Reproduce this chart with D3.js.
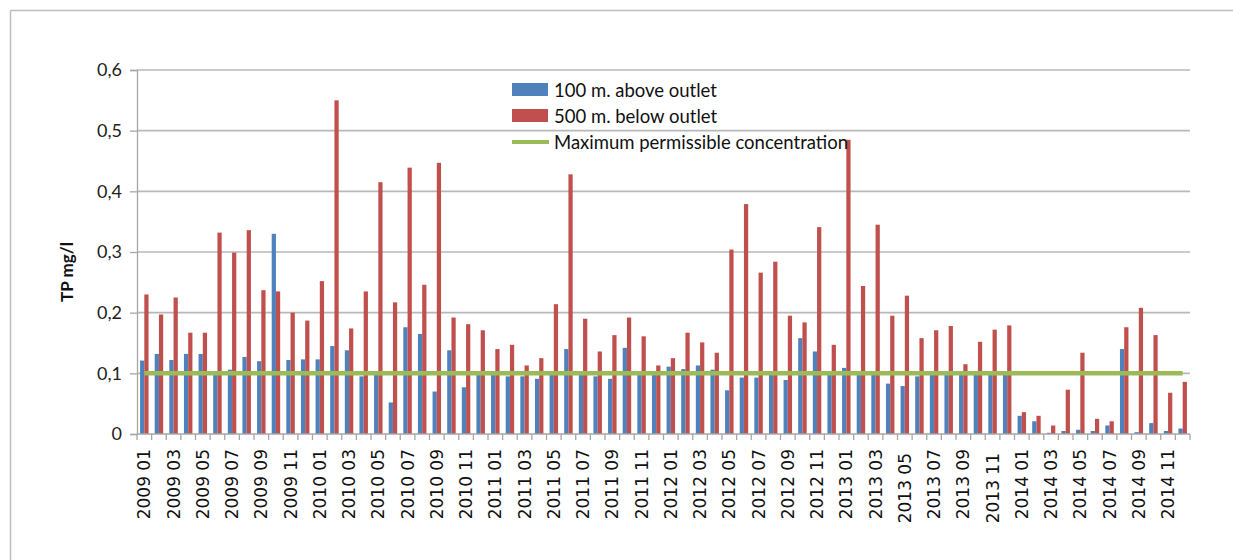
<!DOCTYPE html>
<html>
<head>
<meta charset="utf-8">
<script src="https://cdn.jsdelivr.net/npm/d3@7"></script>
<style>
  html, body { margin: 0; padding: 0; background: #fff; }
  svg { display: block; }
</style>
</head>
<body>
<svg id="chart" width="1233" height="560"></svg>
<script>
const years = ["2009", "2010", "2011", "2012", "2013", "2014"];
const months = ["01", "02", "03", "04", "05", "06", "07", "08", "09", "10", "11", "12"];
const categories = years.flatMap(y => months.map(m => y + " " + m));

const above = [
  0.121, 0.132, 0.122, 0.132, 0.132, 0.098, 0.106, 0.127, 0.120, 0.330,
  0.122, 0.123, 0.123, 0.145, 0.138, 0.095, 0.099, 0.052, 0.176, 0.165,
  0.070, 0.138, 0.077, 0.099, 0.099, 0.095, 0.095, 0.091, 0.099, 0.140,
  0.099, 0.095, 0.091, 0.142, 0.099, 0.099, 0.111, 0.107, 0.113, 0.106,
  0.072, 0.093, 0.093, 0.099, 0.089, 0.158, 0.136, 0.099, 0.109, 0.099,
  0.099, 0.083, 0.079, 0.095, 0.099, 0.099, 0.099, 0.099, 0.099, 0.099,
  0.030, 0.021, 0.002, 0.005, 0.007, 0.005, 0.014, 0.140, 0.003, 0.018,
  0.005, 0.009
];
const below = [
  0.230, 0.197, 0.225, 0.167, 0.167, 0.332, 0.299, 0.336, 0.237, 0.235,
  0.200, 0.187, 0.252, 0.550, 0.174, 0.235, 0.415, 0.217, 0.439, 0.246,
  0.447, 0.192, 0.181, 0.171, 0.140, 0.147, 0.113, 0.125, 0.214, 0.428,
  0.190, 0.136, 0.163, 0.192, 0.161, 0.113, 0.125, 0.167, 0.151, 0.134,
  0.304, 0.379, 0.266, 0.284, 0.195, 0.184, 0.341, 0.147, 0.485, 0.244,
  0.345, 0.195, 0.228, 0.158, 0.171, 0.178, 0.115, 0.152, 0.172, 0.179,
  0.036, 0.030, 0.014, 0.073, 0.134, 0.025, 0.021, 0.176, 0.208, 0.163,
  0.068, 0.086
];
const limitValue = 0.1;
const seriesNames = ["100 m. above outlet", "500 m. below outlet", "Maximum permissible concentration"];
const yTicks = [0, 0.1, 0.2, 0.3, 0.4, 0.5, 0.6];
const yTickLabels = ["0", "0,1", "0,2", "0,3", "0,4", "0,5", "0,6"];
const yTitle = "TP mg/l";
// labels that the original renders slightly lower (leading-space labels)
const loweredLabels = ["2013 05", "2013 11"];

const colors = { above: "#4F81BD", below: "#C0504D", limit: "#9BBB59" };

const svg = d3.select("#chart");
const plot = { left: 137, right: 1190, top: 70, bottom: 434 };

// outer border (top and left visible)
svg.append("line").attr("x1", 10.5).attr("x2", 1233).attr("y1", 10.5).attr("y2", 10.5)
  .attr("stroke", "#bdbdbd").attr("stroke-width", 1.5);
svg.append("line").attr("x1", 10.5).attr("x2", 10.5).attr("y1", 10.5).attr("y2", 560)
  .attr("stroke", "#bdbdbd").attr("stroke-width", 1.5);

const x = d3.scaleBand().domain(categories).range([plot.left, plot.right]).padding(0);
const y = d3.scaleLinear().domain([0, 0.6]).range([plot.bottom, plot.top]);
const groupW = x.bandwidth() * 0.58;
const x1 = d3.scaleBand().domain(["above", "below"]).range([0, groupW]).padding(0);
const groupOff = (x.bandwidth() - groupW) / 2;

// gridlines
svg.append("g").selectAll("line").data(yTicks.filter(d => d > 0)).join("line")
  .attr("x1", plot.left).attr("x2", plot.right)
  .attr("y1", d => y(d)).attr("y2", d => y(d))
  .attr("stroke", "#b8b8b8").attr("stroke-width", 1.6);

// y axis
const yAxis = d3.axisLeft(y).tickValues(yTicks)
  .tickFormat((d, i) => yTickLabels[i]).tickSize(7).tickPadding(8);
const gy = svg.append("g").attr("transform", `translate(${plot.left},0)`).call(yAxis);
gy.select(".domain").attr("stroke", "#a6a6a6").attr("stroke-width", 1.3);
gy.selectAll(".tick line").attr("stroke", "#a6a6a6").attr("stroke-width", 1.3);
gy.selectAll(".tick text").attr("font-family", "Lato, 'Open Sans', sans-serif")
  .attr("font-size", 18).attr("fill", "#222");

// bars
const bars = svg.append("g");
bars.selectAll("rect.above").data(above).join("rect").attr("class", "above")
  .attr("x", (d, i) => x(categories[i]) + groupOff + x1("above"))
  .attr("width", x1.bandwidth())
  .attr("y", d => y(d)).attr("height", d => y(0) - y(d))
  .attr("fill", colors.above);
bars.selectAll("rect.below").data(below).join("rect").attr("class", "below")
  .attr("x", (d, i) => x(categories[i]) + groupOff + x1("below"))
  .attr("width", x1.bandwidth())
  .attr("y", d => y(d)).attr("height", d => y(0) - y(d))
  .attr("fill", colors.below);

// x axis line and tick marks at category boundaries
svg.append("line").attr("x1", plot.left).attr("x2", plot.right)
  .attr("y1", y(0)).attr("y2", y(0)).attr("stroke", "#a6a6a6").attr("stroke-width", 1.3);
const boundaries = categories.map(c => x(c)).concat([x(categories[categories.length - 1]) + x.bandwidth()]);
svg.append("g").selectAll("line").data(boundaries).join("line")
  .attr("x1", d => d).attr("x2", d => d)
  .attr("y1", y(0)).attr("y2", y(0) + 6)
  .attr("stroke", "#a6a6a6").attr("stroke-width", 1.3);

// x labels (every second month)
const xAxis = d3.axisBottom(x).tickValues(categories.filter((c, i) => i % 2 === 0)).tickSize(0);
const gx = svg.append("g").attr("transform", `translate(0,${y(0)})`).call(xAxis);
gx.select(".domain").remove();
gx.selectAll(".tick text")
  .attr("font-family", "'DejaVu Sans', Verdana, sans-serif")
  .attr("font-size", 17).attr("fill", "#111")
  .attr("text-anchor", "end")
  .attr("transform", "rotate(-90)")
  .attr("x", d => loweredLabels.includes(d) ? -19 : -15)
  .attr("y", 0).attr("dy", "0.36em");

// limit line
const lineGen = d3.line().x((d, i) => x(categories[i]) + x.bandwidth() / 2).y(d => y(d));
svg.append("path").datum(categories.map(() => limitValue))
  .attr("d", lineGen).attr("fill", "none")
  .attr("stroke", colors.limit).attr("stroke-width", 4.5);

// y title
svg.append("text").attr("transform", "translate(67,272) rotate(-90)")
  .attr("text-anchor", "middle").attr("dy", "0.35em")
  .attr("font-family", "Lato, 'Open Sans', sans-serif").attr("font-weight", "bold")
  .attr("font-size", 17).attr("fill", "#111").text(yTitle);

// legend
const legend = svg.append("g").attr("transform", "translate(512,0)");
const lg = [
  { name: seriesNames[0], type: "rect", color: colors.above, yc: 89.5 },
  { name: seriesNames[1], type: "rect", color: colors.below, yc: 115.5 },
  { name: seriesNames[2], type: "line", color: colors.limit, yc: 142 }
];
lg.forEach(d => {
  if (d.type === "rect") {
    legend.append("rect").attr("x", 0).attr("y", d.yc - 6.5).attr("width", 36).attr("height", 13)
      .attr("fill", d.color);
  } else {
    legend.append("line").attr("x1", 0).attr("x2", 37).attr("y1", d.yc).attr("y2", d.yc)
      .attr("stroke", d.color).attr("stroke-width", 4);
  }
  legend.append("text").attr("x", 42).attr("y", d.yc + 7)
    .attr("font-family", "Lato, 'Open Sans', sans-serif").attr("font-size", 18.5)
    .attr("fill", "#111").text(d.name);
});
</script>
</body>
</html>
